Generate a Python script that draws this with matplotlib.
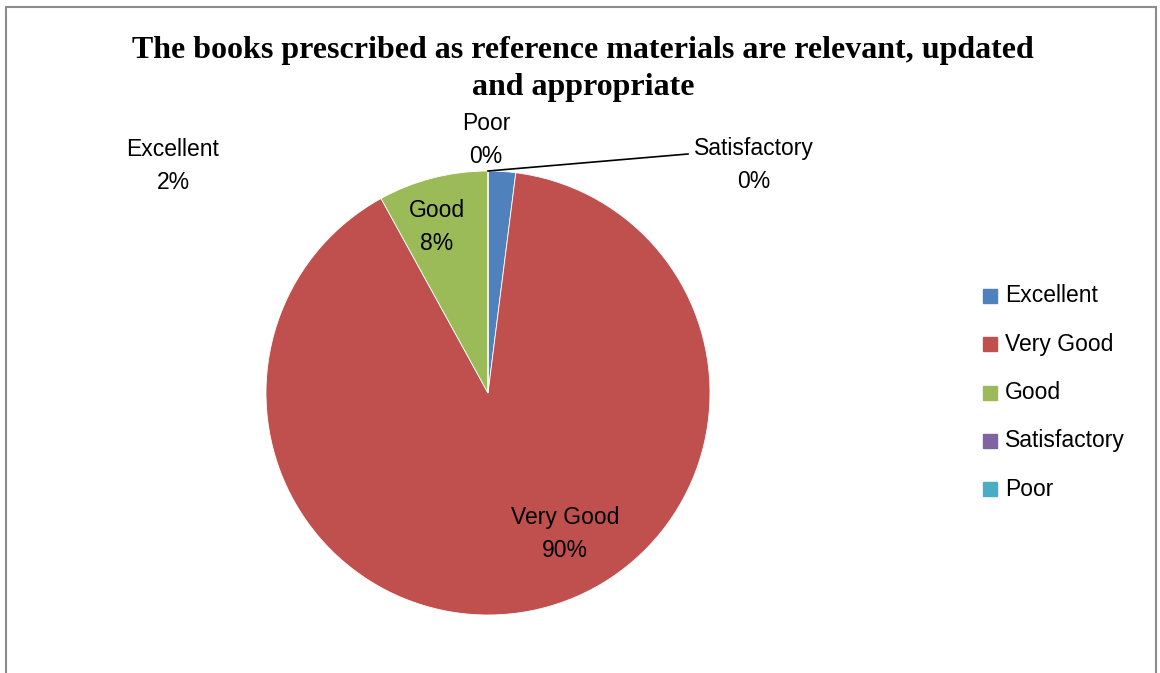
import matplotlib.pyplot as plt
from matplotlib.patches import Rectangle

labels = ['Excellent', 'Very Good', 'Good', 'Satisfactory', 'Poor']
values = [2, 90, 8, 0, 0]
colors = ['#4F81BD', '#C0504D', '#9BBB59', '#8064A2', '#4BACC6']
title = 'The books prescribed as reference materials are relevant, updated\nand appropriate'

W, H = 1160, 673
fig = plt.figure(figsize=(W / 100, H / 100), dpi=100)
ax = fig.add_axes([0, 0, 1, 1])

cx, cy, r = 488, H - 393, 222
wedges, _ = ax.pie(values, colors=colors, startangle=90, counterclock=False,
                   center=(cx, cy), radius=r, frame=True,
                   wedgeprops=dict(linewidth=0.6, edgecolor='white'))
ax.set_xlim(0, W)
ax.set_ylim(0, H)
ax.set_aspect('equal')
ax.axis('off')

fs = 16.5
lab_font = dict(family='Liberation Sans', fontsize=fs, ha='center', va='center',
                linespacing=1.55)
pct = [f'{v}%' for v in values]
# label positions (pixels from top-left)
pos = {'Excellent': (173, 166), 'Very Good': (565, 534), 'Good': (437, 227),
       'Satisfactory': (754, 165), 'Poor': (486, 140)}
for name, p in zip(labels, pct):
    x, y = pos[name]
    ax.text(x, H - y, f'{name}\n{p}', **lab_font)

# leader line for Satisfactory
ax.plot([cx, 688], [cy + r, H - 154], color='black', lw=1.2)

fig.text(583 / W, 1 - 69 / H, title, family='Liberation Serif', fontweight='bold',
         fontsize=23, ha='center', va='center', linespacing=1.33)

# legend
for i, (name, c) in enumerate(zip(labels, colors)):
    y = H - (296 + 48.3 * i)
    ax.add_patch(Rectangle((983, y - 7), 14, 14, color=c))
    ax.text(1005, y, name, family='Liberation Sans', fontsize=fs, va='center', ha='left')

fig.add_artist(Rectangle((6 / W, -0.01), (1156 - 6) / W, 1 - 7 / H + 0.01,
                         transform=fig.transFigure, fill=False,
                         edgecolor='#8c8c8c', lw=1.5))

fig.savefig('out.png', dpi=100)
